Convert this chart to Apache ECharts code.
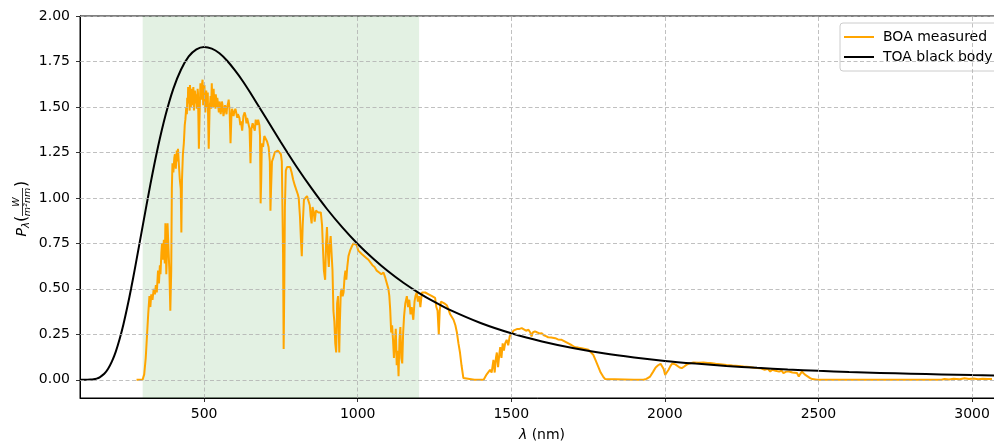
<!DOCTYPE html>
<html>
<head>
<meta charset="utf-8">
<script src="https://cdn.jsdelivr.net/npm/echarts@6/dist/echarts.min.js"></script>
<style>
  html, body { margin: 0; padding: 0; background: #ffffff; }
  #chart { width: 994px; height: 444px; }
</style>
</head>
<body>
<div id="chart"></div>
<script>
// Axis ticks
const xTicks = [500, 1000, 1500, 2000, 2500, 3000];
const yTicks = [0, 0.25, 0.5, 0.75, 1.0, 1.25, 1.5, 1.75, 2.0];

// Highlighted band (visible / near infrared), nm
const bandRange = [300, 1200];

// Top of atmosphere: black body curve [wavelength nm, W/(m^2 nm)]
const toaBlackBody = [
  [96, 0], [100, 0], [120, 0.0003], [130, 0.0011], [140, 0.0029], [150, 0.0067],
  [160, 0.0137], [175, 0.033], [187.5, 0.061], [200, 0.101], [212.5, 0.155],
  [225, 0.224], [237.5, 0.306], [250, 0.400], [262.5, 0.503], [275, 0.614],
  [300, 0.845], [325, 1.073], [350, 1.281], [375, 1.458], [400, 1.601],
  [425, 1.706], [450, 1.778], [475, 1.817], [500, 1.830], [525, 1.821],
  [550, 1.795], [575, 1.754], [600, 1.702], [625, 1.644], [650, 1.579],
  [700, 1.443], [750, 1.306], [800, 1.174], [850, 1.052], [900, 0.939],
  [950, 0.838], [1000, 0.747], [1050, 0.667], [1100, 0.595], [1150, 0.532],
  [1200, 0.477], [1250, 0.428], [1300, 0.384], [1400, 0.312], [1500, 0.2555],
  [1600, 0.211], [1700, 0.175], [1800, 0.146], [1900, 0.123], [2000, 0.104],
  [2100, 0.089], [2200, 0.076], [2300, 0.0658], [2400, 0.057], [2500, 0.0496],
  [2600, 0.043], [2700, 0.038], [2800, 0.0335], [2900, 0.0296], [3000, 0.026],
  [3070, 0.0242], [3104, 0.0234]
];

// Bottom of atmosphere: measured spectrum [wavelength nm, W/(m^2 nm)]
const boaMeasured = [
  [280, 0], [290, 0], [300, 0.002], [305, 0.03], [310, 0.12], [314, 0.24], [318, 0.36],
  [322, 0.46], [325, 0.40], [328, 0.47], [332, 0.44], [336, 0.50], [340, 0.47], [343, 0.52],
  [346, 0.48], [350, 0.60], [353, 0.53], [356, 0.63], [358, 0.58], [361, 0.70], [363, 0.75],
  [366, 0.66], [369, 0.77], [372, 0.64], [374, 0.86], [377, 0.58], [379, 0.70], [381, 0.86],
  [384, 0.72], [387, 0.60], [390, 0.38], [393, 0.60], [395, 1.05], [397, 1.19], [400, 1.14],
  [403, 1.22], [405, 1.24], [408, 1.16], [411, 1.26], [413, 1.20], [415, 1.27], [418, 1.18],
  [421, 1.10], [424, 1.05], [426, 0.81], [428, 1.10], [431, 1.24], [434, 1.30], [437, 1.40],
  [439, 1.43], [442, 1.50], [444, 1.46], [445, 1.55], [447, 1.52], [448, 1.61], [450, 1.54],
  [451, 1.56], [453, 1.48], [454, 1.62], [456, 1.55], [457, 1.50], [459, 1.60], [460, 1.58],
  [462, 1.51], [463, 1.55], [465, 1.61], [467, 1.48], [468, 1.53], [470, 1.59], [471, 1.60],
  [473, 1.52], [474, 1.57], [476, 1.49], [477, 1.52], [479, 1.60], [480, 1.58], [483, 1.27],
  [486, 1.50], [488, 1.63], [490, 1.54], [491, 1.58], [493, 1.62], [495, 1.65], [497, 1.51],
  [498, 1.55], [500, 1.60], [501, 1.62], [503, 1.52], [504, 1.47], [506, 1.57], [507, 1.59],
  [509, 1.50], [510, 1.53], [512, 1.58], [513, 1.45], [515, 1.27], [518, 1.50], [520, 1.53],
  [521, 1.56], [523, 1.49], [525, 1.63], [527, 1.52], [528, 1.56], [530, 1.50], [531, 1.60],
  [533, 1.52], [535, 1.55], [537, 1.49], [538, 1.57], [540, 1.53], [541, 1.50], [543, 1.55],
  [545, 1.52], [548, 1.47], [550, 1.53], [552, 1.51], [554, 1.46], [556, 1.49], [558, 1.53],
  [560, 1.51], [563, 1.45], [565, 1.47], [568, 1.51], [570, 1.52], [573, 1.46], [575, 1.50],
  [578, 1.52], [580, 1.54], [583, 1.48], [586, 1.30], [589, 1.45], [591, 1.49], [593, 1.50],
  [596, 1.45], [598, 1.47], [602, 1.49], [605, 1.49], [608, 1.44], [610, 1.46], [613, 1.47],
  [615, 1.44], [618, 1.40], [620, 1.42], [624, 1.37], [628, 1.45], [632, 1.47], [635, 1.45],
  [638, 1.41], [640, 1.44], [645, 1.43], [648, 1.38], [651, 1.19], [654, 1.38], [658, 1.41],
  [662, 1.40], [665, 1.37], [668, 1.43], [672, 1.40], [676, 1.43], [680, 1.40], [682, 1.34],
  [684, 0.97], [686, 1.10], [688, 1.30], [692, 1.28], [696, 1.34], [700, 1.33], [705, 1.31],
  [710, 1.28], [714, 1.20], [716, 0.93], [718, 1.05], [721, 1.20], [725, 1.22], [730, 1.25],
  [735, 1.24], [740, 1.26], [745, 1.25], [750, 1.24], [753, 1.20], [757, 0.70], [759, 0.17],
  [761, 0.50], [763, 0.95], [766, 1.15], [770, 1.17], [775, 1.18], [780, 1.17], [785, 1.14],
  [790, 1.10], [795, 1.07], [800, 1.08], [805, 1.02], [808, 1.00], [812, 0.90], [815, 0.78],
  [818, 0.68], [821, 0.85], [825, 0.99], [830, 1.00], [835, 1.01], [840, 1.02], [844, 0.96],
  [847, 0.90], [850, 0.86], [853, 0.95], [857, 0.92], [860, 0.87], [864, 0.93], [868, 0.94],
  [872, 0.92], [876, 0.91], [880, 0.92], [884, 0.85], [887, 0.72], [890, 0.60], [894, 0.55],
  [897, 0.75], [900, 0.84], [903, 0.70], [906, 0.62], [909, 0.74], [912, 0.79], [915, 0.78],
  [918, 0.60], [921, 0.38], [924, 0.32], [927, 0.20], [930, 0.15], [933, 0.42], [936, 0.46],
  [938, 0.30], [940, 0.15], [942, 0.32], [945, 0.48], [948, 0.50], [951, 0.46], [954, 0.48],
  [957, 0.56], [960, 0.60], [963, 0.55], [966, 0.62], [970, 0.68], [975, 0.71], [980, 0.73],
  [986, 0.75], [992, 0.76], [997, 0.74], [1002, 0.71], [1008, 0.70], [1014, 0.69], [1020, 0.68],
  [1028, 0.67], [1035, 0.66], [1040, 0.65], [1048, 0.63], [1055, 0.62], [1062, 0.60], [1070, 0.59],
  [1077, 0.58], [1084, 0.59], [1090, 0.56], [1095, 0.55], [1100, 0.50], [1103, 0.46], [1106, 0.38],
  [1109, 0.26], [1112, 0.30], [1115, 0.22], [1118, 0.12], [1121, 0.20], [1124, 0.28], [1127, 0.08],
  [1130, 0.16], [1133, 0.02], [1136, 0.22], [1139, 0.29], [1142, 0.12], [1145, 0.09], [1148, 0.26],
  [1151, 0.35], [1155, 0.42], [1160, 0.46], [1164, 0.40], [1168, 0.44], [1172, 0.36], [1176, 0.40],
  [1181, 0.33], [1185, 0.43], [1188, 0.46], [1192, 0.48], [1196, 0.43], [1200, 0.46], [1204, 0.40],
  [1209, 0.48], [1215, 0.47], [1220, 0.48], [1225, 0.47], [1231, 0.47], [1237, 0.46], [1242, 0.46],
  [1247, 0.45], [1252, 0.45], [1256, 0.40], [1260, 0.38], [1264, 0.25], [1267, 0.38], [1271, 0.43],
  [1276, 0.42], [1282, 0.42], [1290, 0.41], [1295, 0.39], [1301, 0.36], [1306, 0.35], [1312, 0.33],
  [1318, 0.30], [1323, 0.26], [1328, 0.20], [1333, 0.15], [1338, 0.08], [1344, 0.01], [1350, 0],
  [1380, 0], [1410, 0], [1415, 0.01], [1420, 0.03], [1425, 0.02], [1431, 0.055], [1436, 0.04],
  [1442, 0.11], [1446, 0.04], [1450, 0.12], [1453, 0.15], [1457, 0.07], [1461, 0.14], [1464, 0.18],
  [1468, 0.12], [1472, 0.20], [1476, 0.16], [1480, 0.20], [1485, 0.22], [1490, 0.19], [1495, 0.24],
  [1502, 0.256], [1507, 0.27], [1512, 0.275], [1520, 0.28], [1527, 0.28], [1534, 0.284], [1540, 0.28],
  [1548, 0.27], [1556, 0.275], [1562, 0.26], [1566, 0.238], [1570, 0.26], [1577, 0.266], [1585, 0.26],
  [1592, 0.255], [1599, 0.256], [1606, 0.245], [1613, 0.24], [1620, 0.234], [1630, 0.232], [1643, 0.229],
  [1652, 0.222], [1664, 0.22], [1675, 0.21], [1686, 0.20], [1697, 0.19], [1708, 0.179], [1718, 0.177],
  [1729, 0.174], [1740, 0.17], [1751, 0.165], [1760, 0.15], [1767, 0.137], [1775, 0.105], [1783, 0.073],
  [1791, 0.04], [1799, 0.018], [1805, 0.005], [1810, 0], [1900, 0], [1930, 0], [1940, 0.005],
  [1952, 0.018], [1962, 0.045], [1970, 0.068], [1978, 0.08], [1986, 0.088], [1992, 0.085], [1996, 0.06],
  [2001, 0.027], [2006, 0.04], [2012, 0.055], [2018, 0.075], [2024, 0.09], [2028, 0.092], [2034, 0.085],
  [2040, 0.075], [2048, 0.068], [2055, 0.064], [2062, 0.072], [2070, 0.082], [2080, 0.09], [2093, 0.095],
  [2110, 0.094], [2126, 0.095], [2140, 0.093], [2148, 0.092], [2165, 0.088], [2180, 0.086], [2201, 0.082],
  [2220, 0.079], [2240, 0.076], [2256, 0.073], [2275, 0.07], [2290, 0.066], [2310, 0.064], [2325, 0.055],
  [2335, 0.06], [2343, 0.046], [2350, 0.055], [2360, 0.05], [2372, 0.045], [2380, 0.05], [2386, 0.037],
  [2395, 0.045], [2405, 0.046], [2415, 0.04], [2430, 0.037], [2436, 0.018], [2440, 0.03], [2446, 0.046],
  [2455, 0.03], [2462, 0.022], [2468, 0.012], [2473, 0.009], [2480, 0.004], [2495, 0], [2700, 0],
  [2900, 0], [2910, 0.004], [2925, 0.002], [2940, 0.006], [2960, 0.003], [2975, 0.008], [2990, 0.004],
  [3005, 0.007], [3020, 0.003], [3035, 0.006], [3050, 0.004], [3065, 0.005]
];

const FONT = '"DejaVu Sans", sans-serif';
const gridStyle = { color: '#b0b0b0', width: 0.8, type: [4, 2.5] };

const chart = echarts.init(document.getElementById('chart'), null, { renderer: 'canvas' });

chart.setOption({
  animation: false,
  backgroundColor: '#ffffff',
  grid: {
    left: 80, right: -10, top: 16, bottom: 46,
    outerBoundsMode: 'none',
    containLabel: false,
    show: true, borderColor: '#000000', borderWidth: 1, backgroundColor: 'transparent'
  },
  legend: {
    data: ['BOA measured', 'TOA black body'],
    orient: 'vertical',
    left: 840, top: 23,
    padding: [6, 14, 6, 4],
    itemGap: 4,
    itemWidth: 30,
    itemHeight: 2,
    icon: 'rect',
    backgroundColor: 'rgba(255,255,255,0.8)',
    borderColor: '#cccccc', borderWidth: 1, borderRadius: 3,
    textStyle: { fontFamily: FONT, fontSize: 14, color: '#000000', lineHeight: 16, padding: [0, 0, 0, 4] }
  },
  xAxis: {
    type: 'value',
    min: 96, max: 3104,
    name: '{i|λ} (nm)',
    nameLocation: 'middle',
    nameGap: 30,
    nameTextStyle: {
      fontFamily: FONT, fontSize: 14, color: '#000000',
      rich: { i: { fontFamily: FONT, fontSize: 14, fontStyle: 'italic', color: '#000000' } }
    },
    axisLine: { show: true, onZero: false, lineStyle: { color: '#000000', width: 1 } },
    axisTick: { show: true, length: 4, customValues: xTicks, lineStyle: { color: '#000000', width: 0.8 } },
    axisLabel: {
      customValues: xTicks, margin: 9, fontFamily: FONT, fontSize: 14, color: '#000000',
      formatter: v => String(v)
    },
    splitLine: { show: false }
  },
  yAxis: {
    type: 'value',
    min: -0.1, max: 2.0,
    axisLine: { show: true, onZero: false, lineStyle: { color: '#000000', width: 1 } },
    axisTick: { show: true, length: 4, customValues: yTicks, lineStyle: { color: '#000000', width: 0.8 } },
    axisLabel: {
      customValues: yTicks, margin: 10, fontFamily: FONT, fontSize: 14, color: '#000000',
      formatter: v => v.toFixed(2)
    },
    splitLine: { show: false }
  },
  graphic: [{
    type: 'group',
    x: 22, y: 208,
    rotation: Math.PI / 2,
    children: [
      { type: 'text', x: -28.5, y: 0, style: { text: 'P', font: 'italic 14px ' + FONT, fill: '#000', align: 'left', verticalAlign: 'middle' } },
      { type: 'text', x: -20, y: 4, style: { text: 'λ', font: 'italic 10px ' + FONT, fill: '#000', align: 'left', verticalAlign: 'middle' } },
      { type: 'text', x: -14, y: 0, style: { text: '(', font: '16px ' + FONT, fill: '#000', align: 'left', verticalAlign: 'middle' } },
      { type: 'text', x: 6, y: -5, style: { text: 'W', font: 'italic 9.5px ' + FONT, fill: '#000', align: 'center', verticalAlign: 'middle' } },
      { type: 'line', shape: { x1: -8, y1: 0.5, x2: 20, y2: 0.5 }, style: { stroke: '#000', lineWidth: 0.8 } },
      { type: 'text', x: 6, y: 6, style: { text: 'm²nm', font: 'italic 9.5px ' + FONT, fill: '#000', align: 'center', verticalAlign: 'middle' } },
      { type: 'text', x: 21, y: 0, style: { text: ')', font: '16px ' + FONT, fill: '#000', align: 'left', verticalAlign: 'middle' } }
    ]
  }],
  series: [
    {
      // shaded band and dashed grid lines at the tick positions
      name: 'band',
      type: 'line',
      data: [],
      z: 1,
      silent: true,
      markArea: {
        silent: true,
        itemStyle: { color: 'rgba(0,128,0,0.11)' },
        data: [[{ xAxis: bandRange[0] }, { xAxis: bandRange[1] }]]
      },
      markLine: {
        silent: true,
        symbol: ['none', 'none'],
        label: { show: false },
        lineStyle: gridStyle,
        data: xTicks.map(v => ({ xAxis: v })).concat(yTicks.map(v => ({ yAxis: v })))
      }
    },
    {
      name: 'BOA measured',
      type: 'line',
      data: boaMeasured,
      z: 3,
      showSymbol: false,
      color: '#ffa500',
      lineStyle: { color: '#ffa500', width: 2 }
    },
    {
      name: 'TOA black body',
      type: 'line',
      data: toaBlackBody,
      z: 4,
      smooth: 0.3,
      showSymbol: false,
      color: '#000000',
      lineStyle: { color: '#000000', width: 2 }
    }
  ]
});
</script>
</body>
</html>
